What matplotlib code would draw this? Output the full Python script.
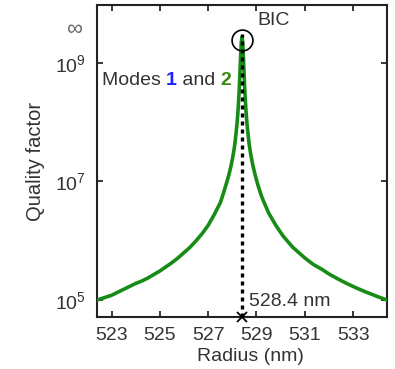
import numpy as np
import matplotlib
matplotlib.use('Agg')
import matplotlib.pyplot as plt

plt.rcParams['font.family'] = ['Liberation Sans', 'DejaVu Sans']
plt.rcParams['mathtext.fontset'] = 'custom'
plt.rcParams['mathtext.rm'] = 'Liberation Sans'

# Data (radius in nm, log10 of quality factor)
radius = [522.4, 522.7, 523.0, 523.25, 523.5, 523.75, 524.0, 524.25, 524.5, 524.75,
          525.0, 525.25, 525.5, 525.75, 526.0, 526.25, 526.5, 526.75, 527.0, 527.25,
          527.5, 527.6, 527.75, 527.85, 527.95, 528.04, 528.1, 528.15, 528.2, 528.24,
          528.28, 528.31, 528.34, 528.37, 528.4,
          528.43, 528.46, 528.49, 528.52, 528.56, 528.6, 528.65, 528.7, 528.76, 528.85,
          528.95, 529.05, 529.2, 529.3, 529.5, 529.8, 530.1, 530.5, 531.0, 531.35,
          531.7, 532.0, 532.35, 532.73, 533.1, 533.5, 534.0, 534.4]
log_q = [5.00, 5.04, 5.08, 5.13, 5.18, 5.23, 5.28, 5.32, 5.37, 5.43,
         5.49, 5.56, 5.63, 5.71, 5.80, 5.89, 6.00, 6.12, 6.26, 6.44,
         6.64, 6.76, 6.96, 7.10, 7.27, 7.46, 7.62, 7.80, 8.00, 8.22,
         8.50, 8.78, 9.08, 9.34, 9.44,
         9.34, 9.08, 8.78, 8.50, 8.22, 8.00, 7.80, 7.62, 7.46, 7.27,
         7.10, 6.95, 6.76, 6.66, 6.47, 6.26, 6.08, 5.89,
         5.71, 5.60, 5.52, 5.44, 5.36, 5.28, 5.21, 5.14, 5.06, 5.00]
bic_radius = 528.4
bic_q = 10 ** 9.38
x_ticks = [523, 525, 527, 529, 531, 533]
y_ticks = [1e5, 1e7, 1e9]
y_ticklabels = ['$\\mathregular{10^5}$', '$\\mathregular{10^7}$', '$\\mathregular{10^9}$']

text_color = '#333333'
green = '#168c16'
fs = 14

fig = plt.figure(figsize=(3.95, 3.69), dpi=100)
ax = fig.add_axes([0.2456, 0.1409, 0.7341, 0.8455])

q = [10 ** v for v in log_q]
ax.plot(radius, q, color=green, lw=2.6, zorder=3, solid_joinstyle='round')

# dotted line at the BIC
ax.plot([bic_radius, bic_radius], [10 ** 4.714, bic_q * 1.3], color='black',
        lw=2.4, ls=(0, (1.2, 1.2)), zorder=4)
ax.plot([bic_radius], [10 ** 4.714], marker='x', color='black', ms=7, mew=1.3,
        clip_on=False, zorder=5)
ax.plot([bic_radius], [bic_q], marker='o', mfc='none', mec='black', ms=15,
        mew=1.2, zorder=5)

ax.set_yscale('log')
ax.set_xlim(522.4, 534.4)
ax.set_ylim(10 ** 4.714, 10 ** 9.975)
ax.set_xticks(x_ticks)
ax.set_yticks(y_ticks)
ax.set_yticklabels(y_ticklabels)
ax.yaxis.set_minor_locator(matplotlib.ticker.NullLocator())
ax.tick_params(direction='in', top=True, right=True, length=4, width=1.1,
               labelsize=fs, labelcolor=text_color)
ax.tick_params(axis='x', pad=7)
ax.tick_params(axis='y', pad=8)
for s in ax.spines.values():
    s.set_linewidth(1.5)
    s.set_color('#222222')

ax.set_xlabel('Radius (nm)', fontsize=fs, color=text_color)
ax.set_ylabel('Quality factor', fontsize=14.5, color=text_color)
ax.xaxis.set_label_coords(0.528, -0.099)
ax.yaxis.set_label_coords(-0.179, 0.5)

ax.text(-0.079, 0.92, '\u221e', transform=ax.transAxes, fontsize=16,
        color='#666666', ha='center', va='center')
ax.text(529.72, 10 ** 9.72, 'BIC', fontsize=fs, color=text_color,
        ha='center', va='center')
ax.text(bic_radius + 0.27, 10 ** 4.98, '528.4 nm', fontsize=fs,
        color=text_color, ha='left', va='center')

# "Modes 1 and 2" with coloured numbers
t = ax.text(522.6, 10 ** 8.71, 'Modes ', fontsize=fs, color=text_color,
            ha='left', va='center')
t2 = ax.annotate('1', xycoords=t, xy=(1, 0.5), va='center', ha='left',
                 fontsize=fs, color='#2020ff', fontweight='bold')
t3 = ax.annotate(' and ', xycoords=t2, xy=(1, 0.5), va='center', ha='left',
                 fontsize=fs, color=text_color)
ax.annotate('2', xycoords=t3, xy=(1, 0.5), va='center', ha='left',
            fontsize=fs, color='#3d8a12', fontweight='bold')

fig.savefig('out.png', dpi=100)
